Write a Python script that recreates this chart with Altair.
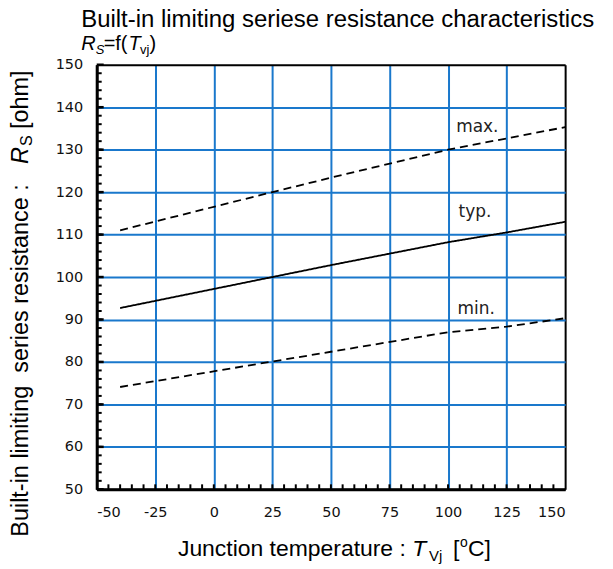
import altair as alt
import pandas as pd

# ---------------- data ----------------
typ_T = [-40, 25, 50, 75, 100, 125, 150]
typ_R = [92.7, 100.0, 102.8, 105.5, 108.2, 110.5, 113.0]
max_T = [-40, 25, 50, 100, 150]
max_R = [111.0, 120.0, 123.4, 130.0, 135.3]
min_T = [-40, 25, 50, 100, 125, 150]
min_R = [74.1, 80.1, 82.4, 87.0, 88.3, 90.3]

label_text = ["max.", "typ.", "min."]
label_T = [112.5, 111.5, 112.0]
label_R = [135.4, 115.4, 92.5]

x_ticks = [-50, -25, 0, 25, 50, 75, 100, 125, 150]
y_ticks = [50, 60, 70, 80, 90, 100, 110, 120, 130, 140, 150]
x_minor = list(range(-45, 150, 5))
y_minor = list(range(52, 150, 2))

W, H = 470, 426
BLUE = "#1a78cc"
SANS = "Liberation Sans"
DV = "DejaVu Sans"

rows = []
for t, r in zip(typ_T, typ_R):
    rows.append({"T": t, "R": r, "s": "typ"})
for t, r in zip(max_T, max_R):
    rows.append({"T": t, "R": r, "s": "max"})
for t, r in zip(min_T, min_R):
    rows.append({"T": t, "R": r, "s": "min"})
lines_df = pd.DataFrame(rows)

xs = alt.Scale(domain=[-50, 150], nice=False, zero=False)
ys = alt.Scale(domain=[50, 150], nice=False, zero=False)

edge_x = "datum.value == -50 || datum.value == 150"
edge_y = "datum.value == 50 || datum.value == 150"
hyphen = "replace(datum.label, '\u2212', '-')"

lines = alt.Chart(lines_df).mark_line(color="black", strokeWidth=1.8).encode(
    x=alt.X("T:Q", scale=xs, axis=alt.Axis(
        values=x_ticks, title=None, grid=True, ticks=False, labelExpr=hyphen,
        gridColor=alt.condition(edge_x, alt.value("black"), alt.value(BLUE)),
        gridWidth=2, domain=True, domainColor="black", domainWidth=3,
        labelFont=DV, labelFontSize=14.5, labelColor="#111", labelPadding=16)),
    y=alt.Y("R:Q", scale=ys, axis=alt.Axis(
        values=y_ticks, title=None, grid=True, ticks=False,
        gridColor=alt.condition(edge_y, alt.value("black"), alt.value(BLUE)),
        gridWidth=2, domain=True, domainColor="black", domainWidth=3,
        labelFont=DV, labelFontSize=14.5, labelColor="#111", labelPadding=14)),
    strokeDash=alt.StrokeDash("s:N", scale=alt.Scale(domain=["typ", "max", "min"],
                                                     range=[[1, 0], [8, 5], [8, 5]]), legend=None),
    detail="s:N",
)

labels = alt.Chart(pd.DataFrame({"T": label_T, "R": label_R, "t": label_text})).mark_text(
    font=DV, fontSize=17, color="#222", align="center", baseline="middle"
).encode(x=alt.X("T:Q", scale=xs), y=alt.Y("R:Q", scale=ys), text="t:N")

xminor = alt.Chart(pd.DataFrame({"v": x_minor})).mark_rule(color="black", strokeWidth=2).encode(
    x=alt.X("v:Q", scale=xs), y=alt.value(H), y2=alt.value(H - 5))
yminor = alt.Chart(pd.DataFrame({"v": y_minor})).mark_rule(color="black", strokeWidth=2).encode(
    y=alt.Y("v:Q", scale=ys), x=alt.value(0), x2=alt.value(5))
ymajor = alt.Chart(pd.DataFrame({"v": y_ticks})).mark_rule(color="black", strokeWidth=2.5).encode(
    y=alt.Y("v:Q", scale=ys), x=alt.value(0), x2=alt.value(7))

# page -> plot coordinates
OX, OY = 97.5, 64.5


def piece(text, px, py, size=20, italic=False, align="left", angle=0, font=SANS):
    kw = dict(font=font, fontSize=size, color="black", align=align, baseline="alphabetic")
    if italic:
        kw["fontStyle"] = "italic"
    if angle:
        kw["angle"] = angle
    return alt.Chart(pd.DataFrame({"t": [text]})).mark_text(**kw).encode(
        x=alt.value(px - OX), y=alt.value(py - OY), text="t:N")


YB = 28.5  # baseline x of the rotated y title
texts = [
    # title
    piece("Built-in limiting seriese resistance characteristics", 82, 26.5, size=24),
    piece("R", 82, 50, size=20, italic=True),
    piece("S", 96.5, 54, size=13, italic=True),
    piece("=f(", 104.5, 50, size=20),
    piece("T", 129.5, 50, size=20, italic=True),
    piece("vj", 141, 54, size=13),
    piece(")", 150.5, 50, size=20),
    # x title
    piece("Junction temperature :", 179, 557, size=23),
    piece("T", 414, 557, size=23, italic=True),
    piece("Vj", 431, 562, size=15),
    piece("[", 455, 557, size=23),
    piece("o", 462, 548, size=14),
    piece("C]", 470, 557, size=23),
    # y title (rotated)
    piece("Built-in limiting\u00a0 series resistance :", YB, 538, size=23.5, angle=270),
    piece("R", YB, 164, size=23.5, italic=True, angle=270),
    piece("S", YB + 4, 146, size=16, angle=270),
    piece("[ohm]", YB, 129, size=23.5, angle=270),
]

chart = alt.layer(lines, labels, xminor, yminor, ymajor, *texts).properties(
    width=W, height=H,
    padding={"left": 89, "top": 56, "right": 40, "bottom": 74},
    autosize=alt.AutoSizeParams(type="none"),
).configure_view(stroke="black", strokeWidth=3, fill="white").configure(background="white")

chart.save("out.html", embed_options={"renderer": "svg", "actions": False})
